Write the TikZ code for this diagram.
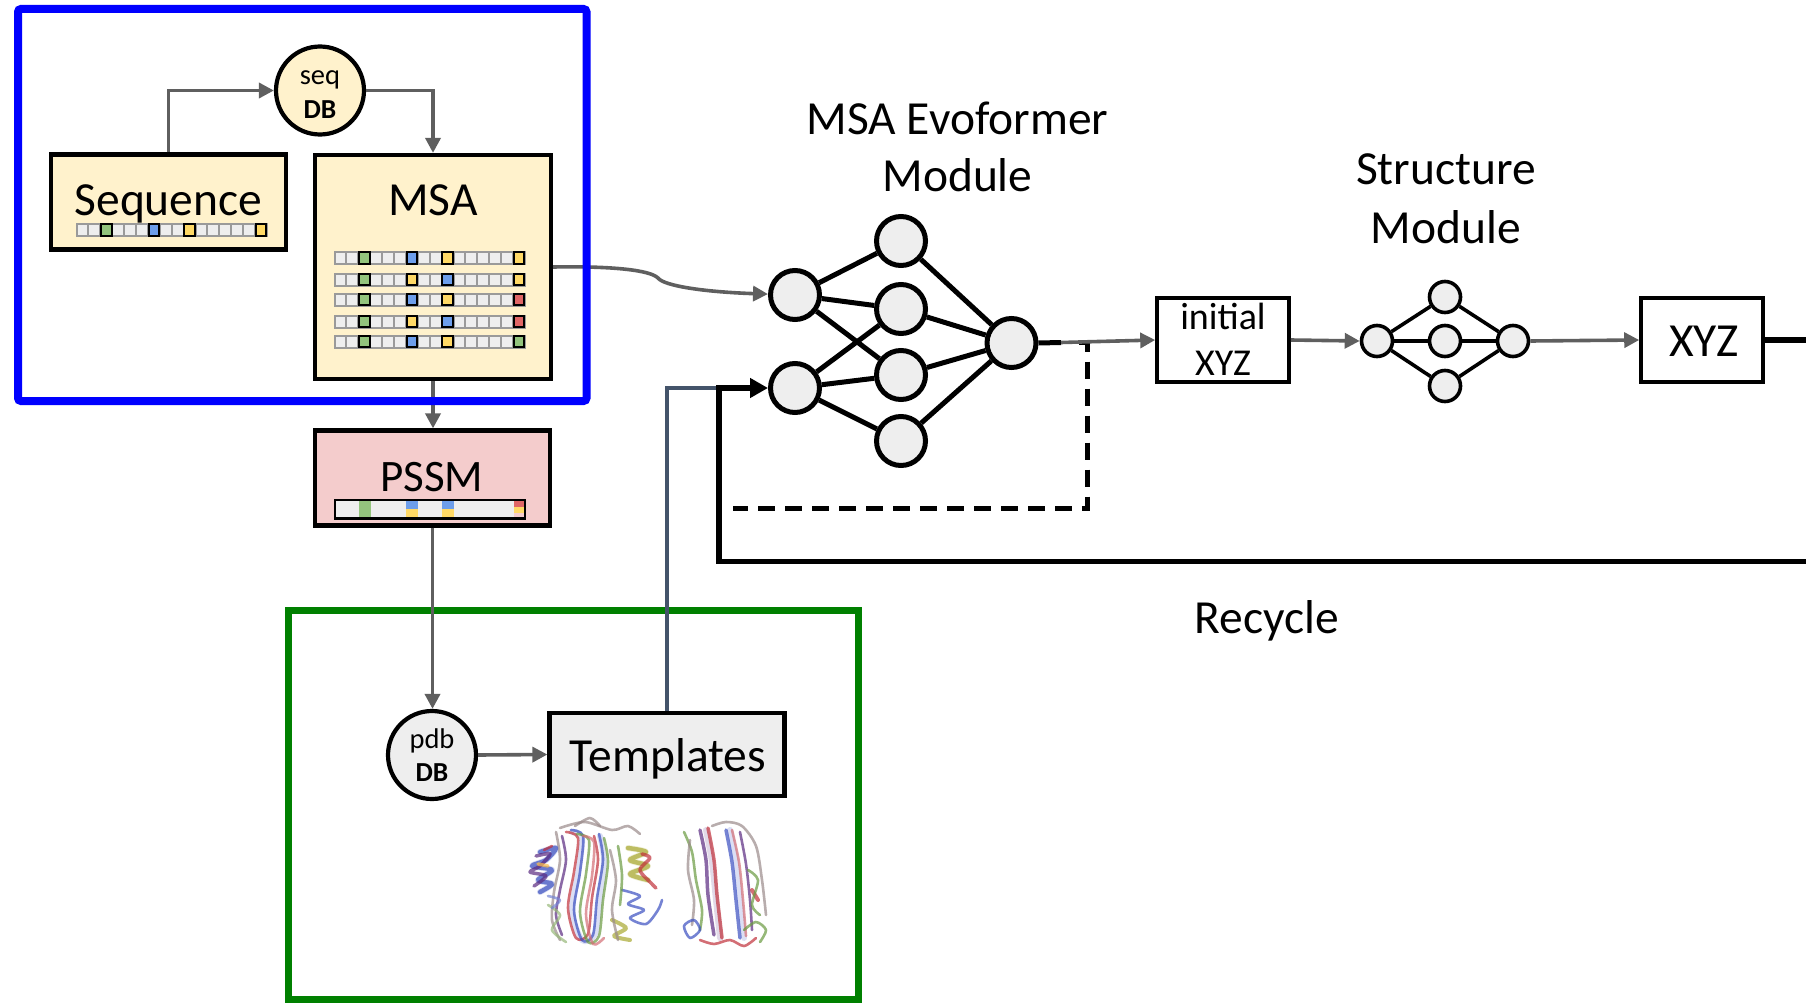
\documentclass[tikz,border=0pt]{standalone}
\usepackage{fontspec}
\setmainfont{Carlito}
\usetikzlibrary{arrows.meta}

\definecolor{conngray}{HTML}{5F5F5F}
\definecolor{paleyellow}{HTML}{FFF2CC}
\definecolor{palepink}{HTML}{F4CCCC}
\definecolor{cellgray}{HTML}{EEEEEE}
\definecolor{celledge}{HTML}{9A9A9A}
\definecolor{resgreen}{HTML}{93C47D}
\definecolor{resblue}{HTML}{6D9EEB}
\definecolor{resyellow}{HTML}{FFD966}
\definecolor{resred}{HTML}{E06666}
\definecolor{slate}{HTML}{44546A}
\definecolor{frameblue}{HTML}{0000FF}
\definecolor{framegreen}{HTML}{008000}
\definecolor{ribred}{HTML}{C0303A}
\definecolor{ribblue}{HTML}{3A4FC0}
\definecolor{ribgreen}{HTML}{6A9A40}
\definecolor{ribpurple}{HTML}{5A2A80}
\definecolor{ribolive}{HTML}{A8A830}
\definecolor{ribgray}{HTML}{9A8A8A}

% one row of 16 residue cells; #1 left x, #2 centre y, #3..#6 colours of cells 3, 7, 10, 16
\newcommand{\residuerow}[6]{%
  \foreach \k in {0,...,15}{
    \draw[celledge, fill=cellgray, line width=2pt] ({#1+\k*11.9},{#2-6.2}) rectangle ++(11.9,12.4);
  }
  \foreach \k/\c in {2/#3,6/#4,9/#5,15/#6}{
    \draw[black, fill=\c, line width=2pt] ({#1+\k*11.9+0.6},{#2-5.6}) rectangle ++(10.7,11.2);
  }
}

\tikzset{
  box/.style={draw=black, line width=4.2pt, rectangle, inner sep=0pt},
  dbnode/.style={draw=black, circle, line width=4.2pt, minimum size=88pt, inner sep=0pt},
  neuron/.style={circle, draw=black, line width=5pt, fill=cellgray, minimum size=49pt, inner sep=0pt},
  sneuron/.style={circle, draw=black, line width=3.6pt, fill=cellgray, minimum size=31pt, inner sep=0pt},
  flow/.style={draw=conngray, line width=3.6pt, -{Triangle[length=15pt,width=15pt]}},
  link/.style={draw=black, line width=5pt},
  slink/.style={draw=black, line width=3.6pt},
  lbl/.style={anchor=base, inner sep=0pt},
  big/.style={font=\fontsize{47.5}{52}\selectfont},
  mid/.style={font=\fontsize{45}{52}\selectfont},
  small/.style={font=\fontsize{38}{44}\selectfont},
  tiny/.style={font=\fontsize{28.5}{30}\selectfont},
  tinybold/.style={font=\fontsize{27.5}{30}\selectfont\bfseries},
  ribbon/.style={line width=2.6pt, opacity=.7, line cap=round, line join=round},
  haze/.style={line width=6pt, opacity=.18, line cap=round, line join=round},
}

\begin{document}
\begin{tikzpicture}[x=1pt,y=-1pt]
\useasboundingbox (0,0) rectangle (1806,1003);

% ---------- green template frame ----------
\draw[framegreen, line width=7pt] (288.5,610.5) rectangle (858.5,999.5);

% ---------- input boxes ----------
\node[box, fill=paleyellow, minimum width=235pt, minimum height=95pt] (sequence) at (168.5,202) {};
\node[lbl, big] (seqlabel) at (168.4,215) {Sequence};
\residuerow{76.5}{230}{resgreen}{resblue}{resyellow}{resyellow}

\node[box, fill=paleyellow, minimum width=236pt, minimum height=224pt] (msa) at (433,267) {};
\node[lbl, big] (msalabel) at (433,215) {MSA};
\residuerow{334.5}{258}{resgreen}{resblue}{resyellow}{resyellow}
\residuerow{334.5}{279.7}{resgreen}{resyellow}{resblue}{resyellow}
\residuerow{334.5}{299.7}{resgreen}{resblue}{resyellow}{resred}
\residuerow{334.5}{321.7}{resgreen}{resyellow}{resblue}{resred}
\residuerow{334.5}{341.7}{resgreen}{resblue}{resyellow}{resgreen}

\node[dbnode, fill=paleyellow] (seqdb) at (320,90.5) {};
\node[lbl, tiny] (seqdblabel) at (320,85) {seq};
\node[lbl, tinybold] (seqdbname) at (320,118.3) {DB};

\node[box, fill=palepink, minimum width=235pt, minimum height=95pt] (pssm) at (432.5,478) {};
\node[lbl, mid] (pssmlabel) at (431.7,491.7) {PSSM};
% profile bar
\fill[cellgray] (335,500) rectangle (525,518.3);
\fill[resgreen] (358.8,500) rectangle (370.7,518.3);
\fill[resblue] (406.4,500) rectangle (418.3,509);
\fill[resyellow] (406.4,509) rectangle (418.3,518.3);
\fill[resblue] (442.1,500) rectangle (454,509);
\fill[resyellow] (442.1,509) rectangle (454,518.3);
\fill[resred] (513.5,500) rectangle (525,507);
\fill[resyellow] (513.5,507) rectangle (525,513);
\fill[palepink] (513.5,513) rectangle (525,518.3);
\draw[black, line width=2.4pt] (335,500) rectangle (525,518.3);

\node[dbnode, fill=cellgray] (pdbdb) at (432,755) {};
\node[lbl, tiny] (pdblabel) at (432,748.3) {pdb};
\node[lbl, tinybold] (pdbname) at (432,781.7) {DB};

\node[box, fill=cellgray, minimum width=235pt, minimum height=83.5pt] (templates) at (667,754.5) {};
\node[lbl, big] (templabel) at (668,771.7) {Templates};

% ---------- template structures ----------
\begin{scope}
  % soft glow under the folds
  \draw[haze, ribblue] plot[smooth] coordinates {(572,832) (582,838) (578,874) (572,912) (582,940) (595,934) (600,898) (604,860) (600,836)};
  \draw[haze, ribblue] plot[smooth] coordinates {(540,852) (556,848) (546,860) (532,866) (552,870) (538,880) (552,884) (540,892)};
  \draw[haze, ribolive] plot[smooth] coordinates {(628,848) (646,852) (630,860) (648,866) (630,874) (648,880)};
  \draw[haze, ribpurple] plot[smooth] coordinates {(706,830) (712,862) (716,900) (720,938)};
  \draw[haze, ribblue] plot[smooth] coordinates {(730,830) (736,862) (740,900) (744,938)};
\end{scope}
\begin{scope}[ribbon]
  % left fold: beta hairpins
  \draw[ribgray] plot[smooth] coordinates {(556,832) (560,860) (554,892) (552,920) (560,940)};
  \draw[ribred] plot[smooth] coordinates {(566,832) (578,838) (574,872) (568,908) (576,938) (588,934) (592,898) (598,860) (594,836)};
  \draw[ribblue] plot[smooth] coordinates {(571,830) (583,836) (580,872) (574,910) (582,940) (593,935) (597,898) (603,860) (599,834)};
  \draw[ribgreen] plot[smooth] coordinates {(577,834) (589,840) (586,874) (580,912) (588,942) (599,936) (603,900) (608,862) (604,838)};
  \draw[ribred!70!white] plot[smooth] coordinates {(583,836) (594,842) (592,876) (586,914) (593,944) (604,938)};
  \draw[ribgray] plot[smooth] coordinates {(560,828) (585,822) (612,830) (628,826) (640,834)};
  \draw[ribgray] plot[smooth] coordinates {(575,826) (590,818) (600,826)};
  \draw[ribpurple] plot[smooth] coordinates {(562,836) (566,860) (560,890) (556,915) (562,935)};
  \draw[ribgreen!70!white] plot[smooth] coordinates {(548,905) (560,915) (552,930) (566,942)};
  % left helix
  \draw[ribblue, line width=4.5pt] plot[smooth] coordinates {(540,852) (556,848) (546,860) (532,866) (552,870) (538,880) (552,884) (540,892)};
  \draw[ribpurple, line width=3.5pt] plot[smooth] coordinates {(536,856) (550,854) (540,866) (530,872) (546,876) (534,886)};
  \draw[resyellow!70!orange, line width=3.5pt] (538,864) -- (548,866);
  \draw[ribred, line width=2.5pt] (544,850) -- (552,846);
  \draw[ribblue!70!white] plot[smooth] coordinates {(548,896) (560,900) (552,908)};
  % right helix
  \draw[ribolive, line width=4.5pt] plot[smooth] coordinates {(628,848) (646,852) (630,860) (648,866) (630,874) (648,880)};
  \draw[ribred, line width=3.5pt] plot[smooth] coordinates {(642,854) (650,858) (640,870) (652,884) (656,888)};
  \draw[ribblue] plot[smooth] coordinates {(622,890) (640,896) (628,904) (644,910) (630,918) (646,924) (658,910) (662,900)};
  \draw[ribolive, line width=4pt] plot[smooth] coordinates {(612,920) (626,928) (614,936) (630,940)};
  \draw[ribgray] plot[smooth] coordinates {(610,850) (616,880) (612,910) (618,940)};
  \draw[ribgreen] plot[smooth] coordinates {(618,846) (622,875) (620,905)};
\end{scope}
\begin{scope}[ribbon]
  % right fold: long strands
  \draw[ribgreen] plot[smooth] coordinates {(684,832) (692,852) (696,880) (702,910) (700,930)};
  \draw[ribgray] plot[smooth] coordinates {(690,840) (688,870) (694,900) (692,925)};
  \draw[ribpurple, line width=3.5pt] plot[smooth] coordinates {(700,830) (706,860) (708,895) (714,935)};
  \draw[ribred, line width=3.5pt] plot[smooth] coordinates {(708,828) (714,860) (717,895) (722,938)};
  \draw[ribblue, line width=3.5pt] plot[smooth] coordinates {(726,830) (732,862) (736,900) (740,938)};
  \draw[ribred!70!white] plot[smooth] coordinates {(732,830) (739,862) (743,900) (746,936)};
  \draw[ribpurple] plot[smooth] coordinates {(740,832) (746,864) (750,900) (752,930)};
  \draw[ribgray] plot[smooth] coordinates {(712,826) (726,822) (742,826) (756,846) (762,880) (766,915)};
  \draw[ribred, line width=4pt] (752,890) -- (758,900);
  \draw[ribgreen] plot[smooth] coordinates {(748,870) (758,880) (752,905) (760,915)};
  \draw[ribblue] plot[smooth cycle] coordinates {(684,926) (694,920) (700,930) (690,938)};
  \draw[ribred] plot[smooth] coordinates {(700,940) (714,944) (730,940) (744,946) (756,938)};
  \draw[ribgreen] plot[smooth] coordinates {(744,930) (756,922) (766,930) (760,942)};
\end{scope}

% ---------- MSA Evoformer ----------
\node[lbl, big] (evotitle) at (957.5,135) {MSA Evoformer};
\node[lbl, big] (evosub) at (957.5,191.7) {Module};
\node[neuron] (in1) at (795,295) {};
\node[neuron] (in2) at (795,388) {};
\node[neuron] (m1) at (901,241) {};
\node[neuron] (m2) at (901,309) {};
\node[neuron] (m3) at (901,375) {};
\node[neuron] (m4) at (901,441) {};
\node[neuron] (out) at (1011.5,343) {};
\foreach \a/\b in {in1/m1,in1/m2,in1/m3,in2/m2,in2/m3,in2/m4,m1/out,m2/out,m3/out,m4/out}
  \draw[link] (\a) -- (\b);

% ---------- structure module ----------
\node[lbl, big] (strtitle) at (1446,185) {Structure};
\node[lbl, big] (strsub) at (1446,243.3) {Module};
\node[box, line width=3.6pt, fill=white, minimum width=132pt, minimum height=84.5pt] (initial) at (1223,340) {};
\node[lbl, small] (initlabel) at (1223,329.3) {initial};
\node[lbl, small] (initxyz) at (1223,375) {XYZ};
\node[sneuron] (s1) at (1377,341) {};
\node[sneuron] (s2) at (1445,297) {};
\node[sneuron] (s3) at (1445,341) {};
\node[sneuron] (s4) at (1445,386) {};
\node[sneuron] (s5) at (1513,341) {};
\foreach \a/\b in {s1/s2,s1/s3,s1/s4,s2/s5,s3/s5,s4/s5}
  \draw[slink] (\a) -- (\b);
\node[box, line width=3.6pt, minimum width=122pt, minimum height=84pt] (xyz) at (1702,340) {};
\node[lbl, big] (xyzlabel) at (1704,356) {XYZ};

\node[lbl, big] (recycle) at (1267,633.3) {Recycle};

% ---------- connectors ----------
\draw[flow] (sequence.north) |- (seqdb.west);
\draw[flow] (seqdb.east) -| (msa.north);
\draw[flow] (msa.south) -- (msa.south |- pssm.north);
\draw[flow] (pssm.south) -- (pssm.south |- pdbdb.north);
\draw[flow] (pdbdb.east) -- (templates.west);
\draw[flow] (msa.east) .. controls (612,266) and (650,270) .. (658,278)
  .. controls (664,286) and (705,292) .. (in1);

\coordinate (join) at (719,388);
\coordinate (loopright) at (1860,340);
\coordinate (loopbottom) at (1860,561.5);
\coordinate (loopleft) at (719,561.5);
\draw[slate, line width=4.6pt] (templates.north) |- (join);
\draw[black, line width=5.2pt, -{Triangle[length=18pt,width=19pt]}]
  (xyz.east) -- (loopright) -- (loopbottom) -- (loopleft) -- (join) -- (in2);

\coordinate (stub) at (1061,342.5);
\coordinate (dashtop) at (1079,342.5);
\coordinate (dashcorner) at (1087,342.5);
\coordinate (dashdown) at (1087,508);
\coordinate (dashend) at (733,508);
\draw[black, line width=5pt] (out.east) -- (stub);
\draw[black, line width=5pt, dash pattern=on 17pt off 10pt, line join=miter]
  (dashtop) -- (dashcorner) -- (dashdown) -- (dashend);
\draw[flow] (stub) -- (initial.west);
\draw[flow] (initial.east) -- (s1.west);
\draw[flow] (s5.east) -- (xyz.west);

% ---------- blue input frame ----------
\draw[frameblue, line width=8pt, rounded corners=3pt] (18,9) rectangle (586.5,401);

\end{tikzpicture}
\end{document}
